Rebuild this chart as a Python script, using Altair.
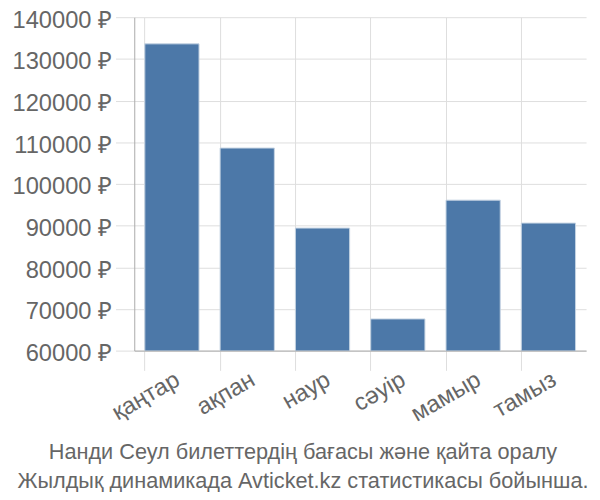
import altair as alt
import pandas as pd

months = ["қаңтар", "ақпан", "наур", "сәуір", "мамыр", "тамыз"]
prices = [133600, 108600, 89400, 67600, 96100, 90600]
y_ticks = [60000, 70000, 80000, 90000, 100000, 110000, 120000, 130000, 140000]

df = pd.DataFrame({"month": months, "price": prices})

chart = alt.Chart(df).mark_bar(
    color="#4c78a8", stroke="#c5d3e3", strokeWidth=1, clip=True
).encode(
    x=alt.X("month:N", sort=months, title=None,
            scale=alt.Scale(paddingInner=0.28, paddingOuter=0.14),
            axis=alt.Axis(labelAngle=-30, labelAlign="right", labelBaseline="top",
                          bandPosition=0, grid=True, tickSize=20, tickColor="#ddd",
                          domainColor="#aaa", labelPadding=-3, labelFontSize=24)),
    y=alt.Y("price:Q", title=None,
            scale=alt.Scale(domain=[60000, 140000], nice=False, zero=False),
            axis=alt.Axis(values=y_ticks, labelExpr="datum.value + ' ₽'",
                          tickSize=19, tickColor="#ddd", domainColor="#aaa",
                          labelPadding=4, labelFontSize=24, labelOffset=3)),
).properties(
    width=458, height=338,
    autosize=alt.AutoSizeParams(type="none"),
    padding={"left": 128, "top": 6, "right": 6, "bottom": 140},
    title=alt.TitleParams(
        ["Нанди Сеул билеттердің бағасы және қайта оралу",
         "Жылдық динамикада Avticket.kz статистикасы бойынша."],
        orient="bottom", fontSize=22, fontWeight="normal", color="#666",
        font="Liberation Sans", offset=17, lineHeight=29, dx=-58),
).configure_axis(
    labelFont="Liberation Sans", labelColor="#666",
    gridColor="#ddd",
).configure_view(stroke=None)

chart.save("out.html", embed_options={"renderer": "svg", "actions": False})
